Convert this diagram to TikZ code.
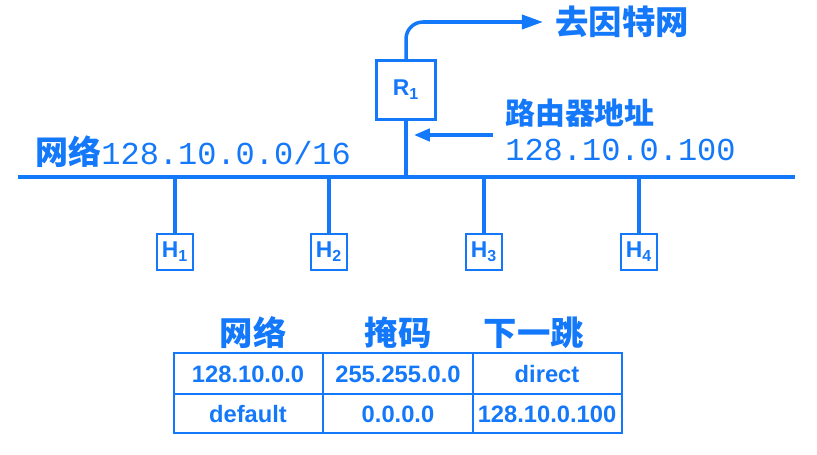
\documentclass[tikz,border=0pt]{standalone}
\usepackage{fontspec}
\setmainfont{Liberation Sans}
\newfontfamily\cjk{Noto Sans CJK SC}
\newfontfamily\monof{Liberation Mono}
\usetikzlibrary{arrows.meta}
\definecolor{netblue}{RGB}{20,120,250}
\tikzset{
  box/.style={draw=netblue, line width=1.5pt, inner sep=0pt, text=netblue, font=\bfseries\fontsize{13}{14}\selectfont},
  wire/.style={draw=netblue, line width=2pt},
  lbl/.style={text=netblue, inner sep=0pt, anchor=west},
  cell/.style={text=netblue, font=\bfseries\fontsize{13.5}{14}\selectfont},
  head/.style={text=netblue, font=\cjk\bfseries\fontsize{19}{20}\selectfont},
}
\begin{document}
\begin{tikzpicture}[x=0.02cm,y=-0.02cm]
\useasboundingbox (0,0) rectangle (817,455);
% the network bus
\coordinate (busL) at (18,177);
\coordinate (busR) at (795,177);
\draw[wire] (busL) -- (busR);
\node[lbl] (netname) at (35,152) {{\cjk\bfseries\fontsize{18.8}{20}\selectfont 网络}{\monof\fontsize{18.2}{20}\selectfont 128.10.0.0/16}};
% router and its way out
\node[box, minimum size=1.18cm] (R1) at (406,90) {R\textsubscript{1}};
\draw[wire] (R1.south) -- (R1.south |- busL);
\node[lbl, inner sep=0.24cm, font=\cjk\bfseries\fontsize{19}{20}\selectfont] (inet) at (543,22) {去因特网};
\draw[wire, rounded corners=0.34cm, -{Triangle[length=12pt,width=8pt]}] (R1.north) |- (inet.west);
% router address
\node[lbl, font=\cjk\bfseries\fontsize{17}{18}\selectfont] (addrname) at (505,113) {路由器地址};
\node[lbl, font=\monof\fontsize{18.2}{20}\selectfont] (addrip) at (505,150) {128.10.0.100};
\coordinate (ptr) at (493,135);
\draw[wire, shorten >=0.16cm, -{Triangle[length=9pt,width=7pt]}] (ptr) -- (ptr -| R1.south);
% hosts
\foreach \i/\x in {1/175,2/329,3/484,4/639}
{
\node[box, minimum size=0.72cm] (H\i) at (\x,252) {H\textsubscript{\i}};
\draw[wire] (H\i.north) -- (H\i.north |- busL);
}
% routing table
\node[head] (hnet) at (253,333) {网络};
\node[head] (hmask) at (398,333) {掩码};
\node[head] (hhop) at (534,333) {下一跳};
\draw[box] (174,353) rectangle (622,433);
\draw[box] (174,394) -- (622,394);
\draw[box] (323,353) -- (323,433);
\draw[box] (473,353) -- (473,433);
\node[cell] (net1) at (248,374) {128.10.0.0};
\node[cell] (mask1) at (398,374) {255.255.0.0};
\node[cell] (hop1) at (547,374) {direct};
\node[cell] (net2) at (248,414) {default};
\node[cell] (mask2) at (398,414) {0.0.0.0};
\node[cell] (hop2) at (547,414) {128.10.0.100};
\end{tikzpicture}
\end{document}
